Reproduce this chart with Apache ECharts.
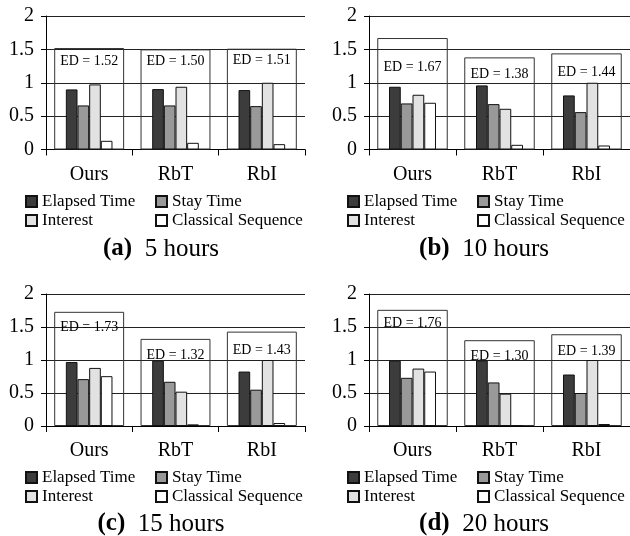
<!DOCTYPE html>
<html>
<head>
<meta charset="utf-8">
<script src="https://cdn.jsdelivr.net/npm/echarts@6/dist/echarts.min.js"></script>
<style>
  html, body { margin: 0; padding: 0; background: #fff; }
  #chart { width: 630px; height: 536px; }
</style>
</head>
<body>
<div id="chart"></div>
<script>
// categories and series
const categories = ['Ours', 'RbT', 'RbI'];
const seriesNames = ['Elapsed Time', 'Stay Time', 'Interest', 'Classical Sequence'];

// (a) 5 hours
const elapsed5 = [0.90, 0.905, 0.89];
const stay5 = [0.66, 0.66, 0.65];
const interest5 = [0.975, 0.94, 1.0];
const classical5 = [0.13, 0.10, 0.08];
const ed5 = [1.52, 1.50, 1.51];

// (b) 10 hours
const elapsed10 = [0.94, 0.96, 0.81];
const stay10 = [0.69, 0.68, 0.56];
const interest10 = [0.82, 0.61, 1.0];
const classical10 = [0.70, 0.07, 0.06];
const ed10 = [1.67, 1.38, 1.44];

// (c) 15 hours
const elapsed15 = [0.97, 0.99, 0.825];
const stay15 = [0.71, 0.67, 0.55];
const interest15 = [0.88, 0.52, 1.0];
const classical15 = [0.755, 0.025, 0.045];
const ed15 = [1.73, 1.32, 1.43];

// (d) 20 hours
const elapsed20 = [0.99, 0.99, 0.78];
const stay20 = [0.73, 0.66, 0.50];
const interest20 = [0.87, 0.49, 1.0];
const classical20 = [0.825, 0.005, 0.03];
const ed20 = [1.76, 1.30, 1.39];

const captionTags = ['(a)', '(b)', '(c)', '(d)'];
const captionTexts = ['5 hours', '10 hours', '15 hours', '20 hours'];

const panelData = [
    [elapsed5, stay5, interest5, classical5, ed5],
    [elapsed10, stay10, interest10, classical10, ed10],
    [elapsed15, stay15, interest15, classical15, ed15],
    [elapsed20, stay20, interest20, classical20, ed20]
];

// layout / styling
const FONT = '"Liberation Serif", "Times New Roman", serif';
const barColors = ['#3c3c3c', '#999999', '#e2e2e2', '#ffffff'];
const layouts = [
    { left: 46, top: 16, width: 259, height: 133.5, legX: 25, legY: 193, capX: 161, capY: 249, edDrop: [2, 1, 1] },
    { left: 369, top: 16, width: 261, height: 133.5, legX: 347, legY: 193, capX: 484, capY: 249, edDrop: [18, 6, 8] },
    { left: 46, top: 294, width: 259, height: 132, legX: 25, legY: 469, capX: 161, capY: 524, edDrop: [5, 5, 8] },
    { left: 369, top: 294, width: 261, height: 132, legX: 347, legY: 469, capX: 484, capY: 524, edDrop: [2, 5, 6] }
];

const grid = [], xAxis = [], yAxis = [], series = [], legend = [], graphic = [];

layouts.forEach((L, p) => {
    grid.push({ left: L.left, top: L.top, width: L.width, height: L.height, containLabel: false });

    // visible category axis
    xAxis.push({
        type: 'category', gridIndex: p, data: categories,
        axisLine: { lineStyle: { color: '#000', width: 1 } },
        axisTick: { show: true, length: 6, lineStyle: { color: '#000' } },
        axisLabel: { color: '#000', fontFamily: FONT, fontSize: 20, margin: 15 }
    });
    // hidden axis for the ED boxes
    xAxis.push({ type: 'category', gridIndex: p, data: categories, show: false });

    yAxis.push({
        type: 'value', gridIndex: p, min: 0, max: 2, interval: 0.5,
        axisLine: { show: true, lineStyle: { color: '#000', width: 1 } },
        axisTick: { show: true, length: 5, lineStyle: { color: '#000' } },
        axisLabel: { color: '#000', fontFamily: FONT, fontSize: 20, margin: 12 },
        splitLine: { show: true, lineStyle: { color: '#222', width: 1 } }
    });

    const d = panelData[p];
    series.push({
        name: 'ED', type: 'bar', xAxisIndex: p * 2 + 1, yAxisIndex: p,
        barWidth: '81%', z: 1, silent: true,
        itemStyle: { color: 'rgba(0,0,0,0)', borderColor: '#333', borderWidth: 1 },
        data: d[4].map((v, i) => ({
            value: v,
            label: { distance: 4 + L.edDrop[i] }
        })),
        label: {
            show: true, position: 'insideTop',
            color: '#000', fontFamily: FONT, fontSize: 14,
            formatter: (prm) => 'ED = ' + prm.value.toFixed(2)
        }
    });

    seriesNames.forEach((name, s) => {
        series.push({
            name, type: 'bar', xAxisIndex: p * 2, yAxisIndex: p,
            barCategoryGap: '46%', barGap: '0%', z: 3,
            itemStyle: { color: barColors[s], borderColor: '#111', borderWidth: 1 },
            data: d[s]
        });
    });

    const legBase = {
        orient: 'vertical', top: L.legY, padding: 0, itemGap: 2,
        itemWidth: 11, itemHeight: 11, icon: 'rect', selectedMode: false,
        textStyle: { color: '#000', fontFamily: FONT, fontSize: 17, lineHeight: 16 }
    };
    legend.push(Object.assign({}, legBase, { left: L.legX, data: [seriesNames[0], seriesNames[2]] }));
    legend.push(Object.assign({}, legBase, { left: L.legX + 130, data: [seriesNames[1], seriesNames[3]] }));

    graphic.push({
        type: 'text', x: L.capX, y: L.capY,
        style: {
            text: '{b|' + captionTags[p] + '}  ' + captionTexts[p],
            fill: '#000', fontFamily: FONT, fontSize: 25,
            align: 'center', verticalAlign: 'middle',
            rich: { b: { fontWeight: 'bold', fontFamily: FONT, fontSize: 25, fill: '#000' } }
        }
    });
});

const chart = echarts.init(document.getElementById('chart'), null, { renderer: 'canvas' });
chart.setOption({
    backgroundColor: '#fff',
    animation: false,
    grid, xAxis, yAxis, series, legend, graphic
});
</script>
</body>
</html>
